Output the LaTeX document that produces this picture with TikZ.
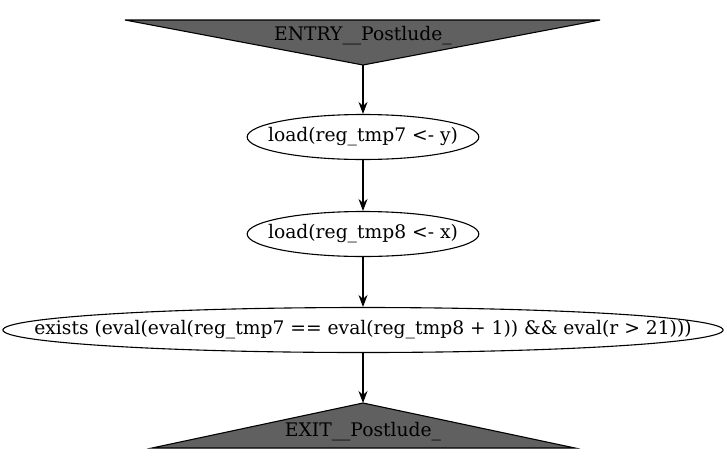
\documentclass[tikz,border=0pt]{standalone}
\usepackage{fontspec}
\setmainfont{DejaVu Serif}
\usepackage{tikz}
\usetikzlibrary{arrows.meta, positioning, shapes.geometric}
\definecolor{termgray}{RGB}{96, 96, 96}

\begin{document}
\begin{tikzpicture}[
    x=1pt, y=-1pt,
    state/.style={draw, ellipse, line width=1.1pt, inner ysep=0pt, minimum height=45pt, font=\fontsize{18.7}{22}\selectfont},
    term/.style={draw, line width=1.1pt, fill=termgray},
    termtext/.style={font=\fontsize{18.7}{22}\selectfont, inner sep=0pt},
    arrow/.style={-{Stealth[length=12pt, width=9pt]}, line width=1.1pt},
]
\useasboundingbox (0, 0) rectangle (727, 469);

% Entry
\coordinate (entrytip) at (363, 65);
\draw[term] (125, 20) -- (600, 20) -- (entrytip) -- cycle;
\node[termtext] (entry) at (363, 36) {ENTRY\_\_Postlude\_};

% Loads
\node[state, inner xsep=-13pt, minimum width=230pt] (load7) at (363, 137) {load(reg\_tmp7 <- y)};
\node[state, inner xsep=-13pt, minimum width=230pt] (load8) at (363, 234) {load(reg\_tmp8 <- x)};

% Condition
\node[state, inner xsep=-74pt, minimum width=717pt] (cond) at (363, 330) {exists (eval(eval(reg\_tmp7 == eval(reg\_tmp8 + 1)) \&\& eval(r > 21)))};

% Exit
\coordinate (exittip) at (363, 403);
\draw[term] (exittip) -- (575, 448) -- (152, 448) -- cycle;
\node[termtext] (exit) at (363, 432) {EXIT\_\_Postlude\_};

% Arrows
\draw[arrow] (entrytip) -- (load7);
\draw[arrow] (load7) -- (load8);
\draw[arrow] (load8) -- (cond);
\draw[arrow] (cond) -- (exittip);
\end{tikzpicture}
\end{document}
